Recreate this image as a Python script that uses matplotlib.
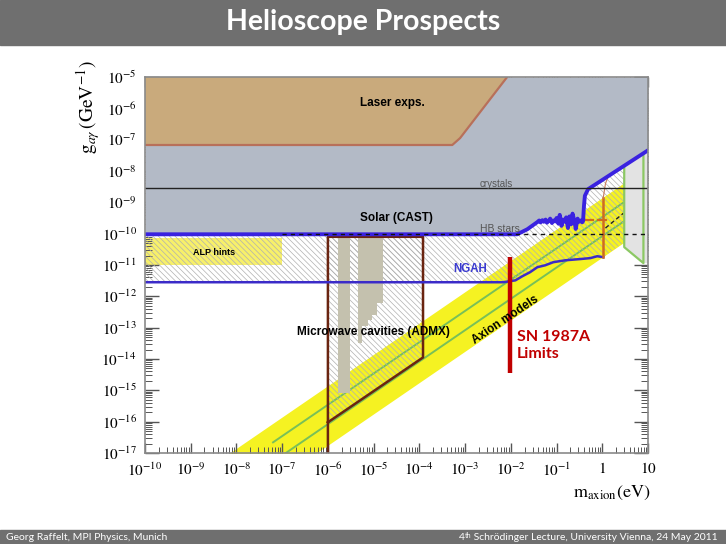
import numpy as np
import matplotlib
matplotlib.use("Agg")
import matplotlib.pyplot as plt
from matplotlib.patches import Rectangle
from matplotlib.ticker import LogLocator, FixedLocator, FixedFormatter, NullFormatter

plt.rcParams['mathtext.fontset'] = 'stix'
plt.rcParams['hatch.linewidth'] = 0.5

# ---------------- data (log10 m_axion [eV], log10 g [GeV^-1]) ----------------
x_ticks = [-10, -9, -8, -7, -6, -5, -4, -3, -2, -1, 0, 1]
x_labels = [r'$10^{-10}$', r'$10^{-9}$', r'$10^{-8}$', r'$10^{-7}$', r'$10^{-6}$',
            r'$10^{-5}$', r'$10^{-4}$', r'$10^{-3}$', r'$10^{-2}$', r'$10^{-1}$',
            r'$1$', r'$10$']
y_ticks = [-5, -6, -7, -8, -9, -10, -11, -12, -13, -14, -15, -16, -17]
y_labels = [r'$10^{%d}$' % v for v in y_ticks]

# laser experiments region
laser_m = [-10, -2.08, -3.11, -3.28, -10]
laser_g = [-5, -5, -6.95, -7.17, -7.17]

# solar CAST limit (lower edge of grey region)
cast_m = [-10, -1.86, -1.64, -1.42,
          -1.38, -1.35, -1.31, -1.28, -1.24, -1.21, -1.17, -1.14, -1.10, -1.07,
          -1.03, -1.00, -0.96, -0.93, -0.89, -0.86, -0.82, -0.79, -0.75, -0.72,
          -0.68, -0.65, -0.61, -0.58, -0.54, -0.51, -0.47, -0.44, -0.42,
          -0.40, -0.38, -0.31, 1.0]
cast_g = [-10.02, -10.02, -9.86, -9.63,
          -9.58, -9.64, -9.57, -9.62, -9.55, -9.65, -9.59, -9.52, -9.66, -9.58,
          -9.61, -9.50, -9.68, -9.40, -9.75, -9.55, -9.62, -9.48, -9.82, -9.45,
          -9.70, -9.36, -9.60, -9.85, -9.52, -9.62, -9.58, -9.64, -9.60,
          -9.11, -8.79, -8.58, -7.34]

crystals_g = -8.55
hb_m = [-7.0, 1.0]
hb_g = -10.0

# ALP hints box
alp_m = [-10, -7.0]
alp_g = [-11.0, -10.14]

# NGAH sensitivity
ngah_m = [-10, -2.17, -1.90, -1.75, -1.58, -1.42, -1.25, -1.07, -0.81, -0.48, -0.26, -0.11, 0.02]
ngah_g = [-11.55, -11.55, -11.49, -11.36, -11.23, -11.07, -11.01, -10.91, -10.85, -10.81, -10.78, -10.72, -10.75]

# orange limit near 1 eV and thin curve
orange_m = [0.02, 0.02]
orange_g = [-10.75, -8.87]
curve_m = [0.02, 0.07, 0.15, 0.24]
curve_g = [-8.87, -8.40, -8.10, -7.90]

# axion model band and model lines
band_m = [-9.0, 0.48]
band_hi = [-17.85, -8.37]
band_lo = [-19.75, -10.27]
ksvz_m = [-7.2, 0.46]
ksvz_g = [-16.66, -9.01]
dfsz_m = [-7.0, 0.46]
dfsz_g = [-17.08, -9.62]

# ADMX prospects and existing limits
admx_m = [-6.0, -6.0, -3.92, -3.92, -6.0]
admx_g = [-17.0, -10.1, -10.1, -13.95, -16.02]
bar1_m = [-5.78, -5.52]
bar1_g = [-15.1, -10.1]
bar2_m = [-5.34, -5.34, -5.25, -5.25, -5.12, -5.12, -5.03, -5.03, -4.92, -4.92, -4.79, -4.79]
bar2_g = [-10.1, -13.50, -13.50, -12.96, -12.96, -12.75, -12.75, -12.60, -12.60, -12.22, -12.22, -10.1]

# telescope / right region
right_m = [0.48, 0.48, 0.90, 1.0, 1.0]
right_g = [-7.83, -10.43, -10.94, -10.94, -7.34]
green_m = [0.48, 0.48, 0.90, 0.90]
green_g = [-7.83, -10.43, -10.94, -7.45]

# SN 1987A
sn_m = -2.01
sn_g = [-10.75, -14.46]


def P(a):
    return 10.0 ** np.asarray(a, dtype=float)


fig = plt.figure(figsize=(7.26, 5.44), dpi=100)
fig.patch.set_facecolor('white')

# title and footer bars
fig.patches.append(Rectangle((0, 1 - 45 / 544), 1, 45 / 544, transform=fig.transFigure,
                             color='#6f6f6f', zorder=0))
fig.text(363 / 726, 1 - 22 / 544, 'Helioscope Prospects', color='white', fontsize=20.5,
         fontweight='bold', family='Lato', ha='center', va='center')
fig.patches.append(Rectangle((0, 0), 1, 14 / 544, transform=fig.transFigure,
                             color='#6f6f6f', zorder=0))
fig.text(6 / 726, 7 / 544, 'Georg Raffelt, MPI Physics, Munich', color='white', fontsize=7.5,
         family='Lato', ha='left', va='center')

ax = fig.add_axes([145 / 726, 1 - 453 / 544, 503 / 726, 376 / 544])
ax.set_xscale('log')
ax.set_yscale('log')
ax.set_xlim(1e-10, 10)
ax.set_ylim(1e-17, 1e-5)

# yellow band, model lines
ax.fill_between(P(band_m), P(band_lo), P(band_hi), color='#f5f222', lw=0, zorder=1)
ax.fill_between(P(alp_m), P(alp_g[0]), P(alp_g[1]), color='#f7f06a', lw=0, zorder=1)
ax.plot(P(ksvz_m), P(ksvz_g), color='#78c058', lw=1.4, zorder=2)
ax.plot(P(dfsz_m), P(dfsz_g), color='#78c058', lw=1.4, zorder=2)

# hatched prospects
hatch_m = list(cast_m[:-1]) + [0.48, 0.48, 0.02] + ngah_m[::-1]
hatch_g = list(cast_g[:-1]) + [-7.83, -10.27, -10.75] + ngah_g[::-1]
ax.fill(P(hatch_m), P(hatch_g), facecolor='none', edgecolor='#b0b0b0', hatch='\\' * 6,
        lw=0, zorder=3)
ax.fill(P(admx_m[1:]), P(admx_g[1:]), facecolor='none', edgecolor='#b0b0b0', hatch='\\' * 6,
        lw=0, zorder=3)

# ADMX existing limits
ax.fill_between(P(bar1_m), P(bar1_g[0]), P(bar1_g[1]), color='#c4c1ae', lw=0, zorder=4)
ax.fill(P(bar2_m), P(bar2_g), color='#c4c1ae', lw=0, zorder=4)
ax.plot(P(admx_m), P(admx_g), color='#6a2410', lw=1.8, zorder=5)

# NGAH line and ~1 eV limits
ax.plot(P(ngah_m), P(ngah_g), color='#3b2bc8', lw=1.8, zorder=5)
ax.plot(P(orange_m), P(orange_g), color='#d06a20', lw=1.8, zorder=5)
ax.plot(P(curve_m), P(curve_g), color='#c87a5a', lw=0.8, zorder=5)
ax.plot(P([-0.37, -0.20]), P([-9.57, -9.57]), color='#d06a20', lw=1.6, zorder=5)
ax.plot(P([-0.09, 0.09]), P([-9.57, -9.57]), color='#d06a20', lw=1.6, zorder=5)
ax.plot(P([0.07, 0.46]), P([-9.82, -9.35]), color='#222222', lw=1.0, ls=(0, (3, 2)), zorder=5)

# right telescope region
ax.fill(P(right_m), P(right_g), color='#e3e3e3', lw=0, zorder=4)
ax.plot(P(green_m), P(green_g), color='#8cc864', lw=1.6, zorder=5)

# CAST and laser regions
ax.fill_between(P(cast_m), P(cast_g), 1e-5, color='#b3bac6', lw=0, zorder=6)
ax.fill(P(laser_m), P(laser_g), color='#c9aa7c', lw=0, zorder=6.5)
ax.plot(P(laser_m[1:4] + [-10]), P(laser_g[1:4] + [-7.17]), color='#b8705a', lw=1.6, zorder=6.6)
ax.plot(P(cast_m), P(cast_g), color='#3a22e0', lw=2.8, zorder=7, solid_joinstyle='round')
ax.axhline(P(crystals_g), color='#222222', lw=1.0, zorder=7)
ax.plot(P(hb_m), P([hb_g, hb_g]), color='#111111', lw=1.0, ls=(0, (3, 3)), zorder=7.5)

# SN 1987A
ax.plot(P([sn_m, sn_m]), P(sn_g), color='#c00000', lw=3.2, zorder=8, solid_capstyle='butt')

# labels inside plot
lab = dict(family='Liberation Sans', fontweight='bold', ha='center', va='center', zorder=9)
ax.text(P(-4.60), P(-5.83), 'Laser exps.', fontsize=8.5, **lab)
ax.text(P(-4.51), P(-9.50), 'Solar (CAST)', fontsize=8.5, **lab)
ax.text(P(-8.49), P(-10.59), 'ALP hints', fontsize=6.5, **lab)
ax.text(P(-2.89), P(-11.13), 'NGAH', fontsize=8.3, color='#3a3ad0', **lab)
ax.text(P(-5.01), P(-13.15), 'Microwave cavities (ADMX)', fontsize=8.5, **lab)
ax.text(P(-2.12), P(-12.76), 'Axion models', fontsize=8.5, rotation=34, rotation_mode='anchor', **lab)
ax.text(P(-2.32), P(-8.42), 'crystals', fontsize=7, color='#555555', family='Liberation Sans',
        ha='center', va='center', zorder=9)
ax.text(P(-2.23), P(-9.86), 'HB stars', fontsize=7.5, color='#555555', family='Liberation Sans',
        ha='center', va='center', zorder=9)
ax.text(P(-1.86), P(-13.56), 'SN 1987A\nLimits', fontsize=11.5, color='#c00000', fontweight='bold',
        family='Lato', ha='left', va='center', linespacing=1.25, zorder=9)

# axes styling
ax.xaxis.set_major_locator(FixedLocator(P(x_ticks)))
ax.xaxis.set_major_formatter(FixedFormatter(x_labels))
ax.yaxis.set_major_locator(FixedLocator(P(y_ticks)))
ax.yaxis.set_major_formatter(FixedFormatter(y_labels))
ax.xaxis.set_minor_locator(LogLocator(base=10, subs=np.arange(2, 10), numticks=30))
ax.yaxis.set_minor_locator(LogLocator(base=10, subs=np.arange(2, 10), numticks=30))
ax.xaxis.set_minor_formatter(NullFormatter())
ax.yaxis.set_minor_formatter(NullFormatter())
ax.tick_params(which='both', direction='in', top=True, right=True, color='#555555')
ax.tick_params(axis='x', which='major', length=7, width=1, labelsize=11, pad=6)
ax.tick_params(axis='x', which='minor', length=4, width=0.7)
ax.tick_params(axis='y', which='major', length=10, width=1, labelsize=11, pad=6)
ax.tick_params(axis='y', which='minor', length=5, width=0.7)
for s in ax.spines.values():
    s.set_color('#8a8a8a')
    s.set_linewidth(1.2)
    s.set_zorder(10)

fig.text(88 / 726, 1 - 107 / 544, r'$\mathrm{g}_{a\gamma}\,(\mathrm{GeV}^{-1})$', fontsize=14,
         rotation=90, ha='center', va='center')
fig.text(612 / 726, 1 - 493 / 544, r'$\mathrm{m}_{\mathrm{axion}}(\mathrm{eV})$', fontsize=13,
         ha='center', va='center')

# footer right text with superscript
inv = fig.transFigure.inverted()
t1 = fig.text(718 / 726, 7 / 544, ' Schrödinger Lecture, University Vienna, 24 May 2011',
              color='white', fontsize=7.5, family='Lato', ha='right', va='center')
fig.canvas.draw()
x1 = inv.transform(t1.get_window_extent().p0)[0]
t2 = fig.text(x1, 9 / 544, 'th', color='white', fontsize=5, family='Lato', ha='right', va='center')
fig.canvas.draw()
x2 = inv.transform(t2.get_window_extent().p0)[0]
fig.text(x2, 7 / 544, '4', color='white', fontsize=7.5, family='Lato', ha='right', va='center')

fig.savefig('out.png', dpi=100)
